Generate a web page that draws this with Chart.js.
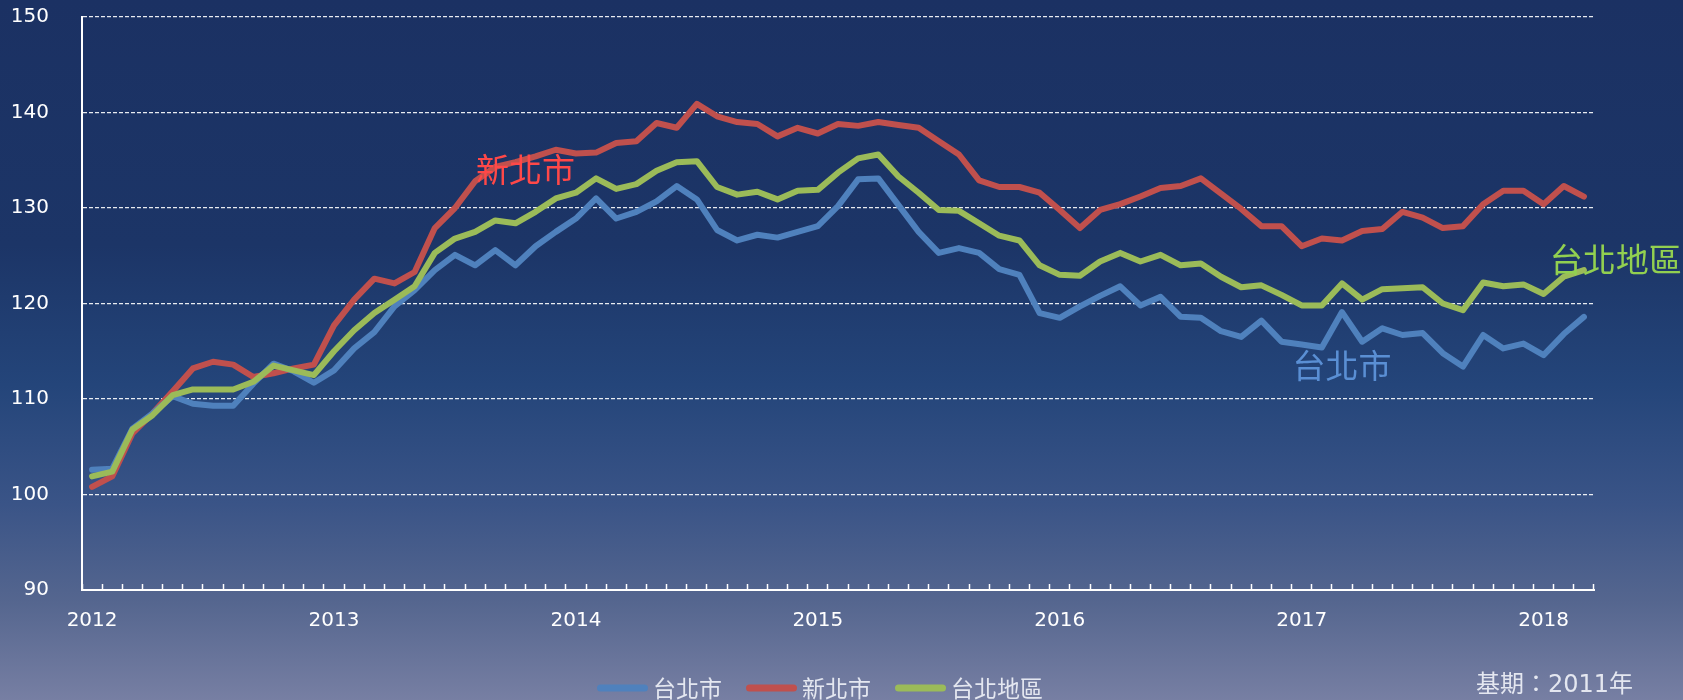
<!DOCTYPE html>
<html lang="zh-Hant">
<head>
<meta charset="utf-8">
<title>台北地區 住宅價格指數</title>
<script src="https://cdn.jsdelivr.net/npm/chart.js@4.4.1/dist/chart.umd.min.js"></script>
<style>
  html, body { margin: 0; padding: 0; }
  body {
    width: 1683px; height: 700px; overflow: hidden;
    background: linear-gradient(to bottom, #1b3163 0%, #1c3567 35%, #24457a 55%, #3a5487 72%, #55668f 86%, #777fa3 100%);
  }
  canvas { display: block; }
</style>
</head>
<body>
<canvas id="chart" width="1683" height="700"></canvas>
<script>
// monthly index, base year 2011 = 100
const months = [
  '2012/01','2012/02','2012/03','2012/04','2012/05','2012/06','2012/07','2012/08','2012/09','2012/10','2012/11','2012/12',
  '2013/01','2013/02','2013/03','2013/04','2013/05','2013/06','2013/07','2013/08','2013/09','2013/10','2013/11','2013/12',
  '2014/01','2014/02','2014/03','2014/04','2014/05','2014/06','2014/07','2014/08','2014/09','2014/10','2014/11','2014/12',
  '2015/01','2015/02','2015/03','2015/04','2015/05','2015/06','2015/07','2015/08','2015/09','2015/10','2015/11','2015/12',
  '2016/01','2016/02','2016/03','2016/04','2016/05','2016/06','2016/07','2016/08','2016/09','2016/10','2016/11','2016/12',
  '2017/01','2017/02','2017/03','2017/04','2017/05','2017/06','2017/07','2017/08','2017/09','2017/10','2017/11','2017/12',
  '2018/01','2018/02','2018/03'
];

const taipeiCity = [
  102.6, 102.7, 106.9, 108.5, 110.3, 109.5, 109.3, 109.3, 111.6, 113.7, 112.9, 111.7,
  113.0, 115.3, 117.0, 119.7, 121.4, 123.5, 125.1, 124.0, 125.6, 124.0, 126.0, 127.5,
  128.9, 131.0, 128.9, 129.6, 130.7, 132.3, 130.9, 127.7, 126.6, 127.2, 126.9, 127.5,
  128.1, 130.2, 133.0, 133.1, 130.3, 127.5, 125.3, 125.8, 125.3, 123.6, 123.0, 119.0,
  118.5, 119.7, 120.8, 121.8, 119.8, 120.7, 118.6, 118.5, 117.1, 116.5, 118.2, 116.0,
  115.7, 115.4, 119.1, 116.0, 117.4, 116.7, 116.9, 114.8, 113.4, 116.7, 115.3, 115.8,
  114.6, 116.8, 118.6
];

const newTaipei = [
  100.8, 101.9, 106.4, 108.5, 110.8, 113.2, 113.9, 113.6, 112.3, 112.7, 113.2, 113.6,
  117.7, 120.4, 122.6, 122.1, 123.3, 127.9, 130.0, 132.8, 134.3, 134.8, 135.4, 136.1,
  135.7, 135.8, 136.8, 137.0, 138.9, 138.4, 140.9, 139.6, 139.0, 138.8, 137.5, 138.4,
  137.8, 138.8, 138.6, 139.0, 138.7, 138.4, 137.0, 135.6, 132.9, 132.2, 132.2, 131.6,
  129.8, 127.9, 129.8, 130.4, 131.2, 132.1, 132.3, 133.1, 131.5, 129.9, 128.1, 128.1,
  126.0, 126.8, 126.6, 127.6, 127.8, 129.6, 129.0, 127.9, 128.1, 130.4, 131.8, 131.8,
  130.4, 132.3, 131.2
];

const taipeiArea = [
  101.9, 102.4, 106.8, 108.3, 110.4, 111.0, 111.0, 111.0, 111.8, 113.5, 113.0, 112.5,
  115.0, 117.2, 119.0, 120.4, 121.8, 125.3, 126.8, 127.5, 128.7, 128.4, 129.6, 131.0,
  131.6, 133.1, 132.0, 132.5, 133.9, 134.8, 134.9, 132.2, 131.4, 131.7, 130.9, 131.8,
  131.9, 133.7, 135.2, 135.6, 133.3, 131.6, 129.8, 129.7, 128.4, 127.1, 126.6, 124.0,
  123.0, 122.9, 124.4, 125.3, 124.4, 125.1, 124.0, 124.2, 122.8, 121.7, 121.9, 120.9,
  119.8, 119.8, 122.1, 120.4, 121.5, 121.6, 121.7, 120.0, 119.3, 122.2, 121.8, 122.0,
  121.0, 122.8, 123.5
];

const yMin = 90;
const yMax = 150;
const yStep = 10;

// series names written next to the lines, placed by (month index, index value)
const lineNotes = [
  { text: '新北市', index: 21.5, value: 134.0, color: '#ff4848', align: 'center' },
  { text: '台北市', index: 62.0, value: 113.5, color: '#5a8fd4', align: 'center' },
  { text: '台北地區', index: 72.3, value: 124.6, color: '#92d050', align: 'left' }
];

const cjkFont = '"Noto Sans CJK TC", "Noto Sans CJK SC", sans-serif';
const numFont = '"DejaVu Sans", "Liberation Sans", sans-serif';

const lineNotesPlugin = {
  id: 'lineNotes',
  afterDatasetsDraw(chart) {
    const ctx = chart.ctx;
    const x = chart.scales.x;
    const y = chart.scales.y;
    ctx.save();
    ctx.font = '33px ' + cjkFont;
    ctx.textBaseline = 'middle';
    lineNotes.forEach(n => {
      ctx.fillStyle = n.color;
      ctx.textAlign = n.align;
      ctx.fillText(n.text, x.getPixelForValue(n.index), y.getPixelForValue(n.value));
    });
    ctx.restore();
  }
};

// legend row under the axis plus the base-year note
const lineLegend = {
  id: 'lineLegend',
  afterDraw(chart, args, opts) {
    const ctx = chart.ctx;
    ctx.save();
    ctx.font = opts.font;
    ctx.textBaseline = 'middle';
    ctx.textAlign = 'left';
    const items = chart.data.datasets.map(ds => ({
      label: ds.label,
      color: ds.borderColor,
      w: ctx.measureText(ds.label).width
    }));
    const total = items.reduce((s, it) => s + opts.lineLength + opts.textGap + it.w, 0) + opts.itemGap * (items.length - 1);
    let x = opts.centerX - total / 2;
    ctx.lineCap = 'round';
    items.forEach(it => {
      ctx.strokeStyle = it.color;
      ctx.lineWidth = opts.lineWidth;
      ctx.beginPath();
      ctx.moveTo(x + opts.lineWidth / 2, opts.y);
      ctx.lineTo(x + opts.lineLength - opts.lineWidth / 2, opts.y);
      ctx.stroke();
      x += opts.lineLength + opts.textGap;
      ctx.fillStyle = opts.color;
      ctx.fillText(it.label, x, opts.y);
      x += it.w + opts.itemGap;
    });

    ctx.font = opts.noteFont;
    ctx.textAlign = 'right';
    ctx.fillStyle = opts.color;
    ctx.fillText(opts.note, opts.noteRight, opts.noteY);
    ctx.restore();
  }
};

const ctx = document.getElementById('chart').getContext('2d');
new Chart(ctx, {
  type: 'line',
  data: {
    labels: months,
    datasets: [
      { label: '台北市', data: taipeiCity, borderColor: '#4f81bd', order: 1 },
      { label: '新北市', data: newTaipei, borderColor: '#c0504d', order: 2 },
      { label: '台北地區', data: taipeiArea, borderColor: '#9bbb59', order: 0 }
    ]
  },
  options: {
    responsive: false,
    animation: false,
    layout: { padding: { left: 0, right: 89, top: 17, bottom: 60 } },
    elements: {
      line: { borderWidth: 6, tension: 0, borderJoinStyle: 'round', borderCapStyle: 'round', fill: false },
      point: { radius: 0, hoverRadius: 0 }
    },
    scales: {
      x: {
        offset: true,
        afterFit(scale) { scale.height = 50; },
        border: { display: true, color: '#ffffff', width: 2 },
        grid: {
          offset: true,
          drawOnChartArea: false,
          drawTicks: true,
          tickLength: -6,
          tickColor: '#ffffff',
          tickWidth: 1.5
        },
        ticks: {
          autoSkip: false,
          maxRotation: 0,
          padding: 25,
          color: '#ffffff',
          font: { family: numFont, size: 20 },
          callback(value, i) {
            const m = months[i];
            return m.endsWith('/01') ? m.slice(0, 4) : '';
          }
        }
      },
      y: {
        min: yMin,
        max: yMax,
        afterFit(scale) { scale.width = 82; },
        border: { display: true, color: '#ffffff', width: 2, dash: [4, 2] },
        grid: {
          drawTicks: true,
          tickLength: 33,
          tickColor: 'rgba(0,0,0,0)',
          lineWidth: 1.2,
          color: c => (c.tick && c.tick.value === yMin ? 'rgba(0,0,0,0)' : 'rgba(255,255,255,0.9)')
        },
        ticks: {
          stepSize: yStep,
          padding: 0,
          color: '#ffffff',
          font: { family: numFont, size: 20 }
        }
      }
    },
    plugins: {
      legend: { display: false },
      tooltip: { enabled: false },
      lineLegend: {
        font: '23px ' + cjkFont,
        noteFont: '24px "DejaVu Sans", ' + cjkFont,
        color: '#e4e7f0',
        centerX: 820,
        y: 688,
        lineLength: 51,
        lineWidth: 7,
        textGap: 5,
        itemGap: 24,
        note: '基期：2011年',
        noteRight: 1633,
        noteY: 686
      }
    }
  },
  plugins: [lineNotesPlugin, lineLegend]
});
</script>
</body>
</html>
